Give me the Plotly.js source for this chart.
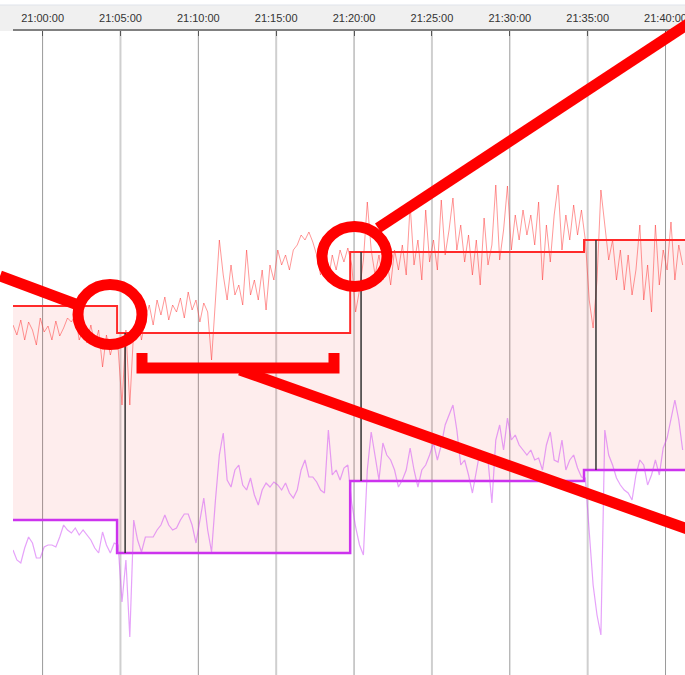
<!DOCTYPE html>
<html>
<head>
<meta charset="utf-8">
<script src="https://cdn.plot.ly/plotly-3.0.1.min.js"></script>
<style>html,body{margin:0;padding:0;background:#fff;}#chart{width:685px;height:675px;}</style>
</head>
<body>
<div id="chart"></div>
<script>
// ---- data (times in seconds after 21:00:00) ----
const noiseStart = -114;      // first sample time (s)
const noiseStep = 15;         // sampling interval (s)
const redVals = [350,340,355,335,353,345,330,357,343,349,335,354,339,
347,357,353,360,335,345,332,350,330,345,308,340,320,335,
327,270,345,270,345,360,335,357,370,350,375,360,378,355,370,363,377,357,383,365,375,353,372,363,
315,375,435,400,375,410,380,390,370,425,
380,395,375,405,365,410,395,425,410,420,
405,425,430,440,435,443,433,420,400,415,
395,420,405,425,413,427,410,363,385,415,
473,425,400,420,395,415,390,425,405,430,
400,470,410,435,395,465,413,435,405,475,
420,445,477,425,450,413,440,400,435,390,
457,410,430,490,415,445,489,425,460,435,
465,440,460,430,473,395,450,413,460,490,
425,460,435,470,440,465,435,375,347,395,
485,450,415,435,395,425,385,420,380,405,
450,375,410,363,450,390,425,405,453,395,430,410];
const violetVals = [125,115,112,127,138,132,117,117,128,130,
130,128,138,150,145,142,147,140,145,140,
135,127,122,143,130,122,132,130,73,115,
38,155,135,123,138,138,138,145,150,160,
150,145,147,155,161,161,150,132,155,177,
145,123,175,220,242,195,188,205,210,190,
185,197,180,170,185,192,188,193,190,185,
192,182,177,185,205,215,198,198,193,185,
182,245,200,205,195,207,210,172,148,130,
120,205,243,220,195,232,220,215,205,188,
195,205,227,205,188,205,210,220,232,215,
230,250,260,270,245,210,215,200,182,205,
225,220,215,172,235,250,225,257,235,240,
230,225,220,225,215,217,205,230,243,215,
213,235,205,215,220,207,198,197,145,90,
60,40,245,220,210,197,190,185,182,175,
200,215,210,190,200,215,200,227,237,255,
275,255,225];
const stepTimes = [-114, 287, 1185, 2086, 2475];
const upperLimit = [369, 342, 423, 435, 435];
const lowerLimit = [155, 122, 194, 205, 205];
const markerTimes = [318, 1227, 2132];
const markerTop = [342, 423, 435];
const markerBottom = [122, 194, 205];
const tickMinutes = [0,5,10,15,20,25,30,35,40];
const xRange = [-114, 2475];

// ---- helpers ----
function pad(n){return (n<10?'0':'')+n;}
function tstr(sec){
  let s = 21*3600 + Math.round(sec);
  const h = Math.floor(s/3600), m = Math.floor((s%3600)/60), ss = s%60;
  return '2024-01-01 ' + pad(h)+':'+pad(m)+':'+pad(ss);
}
const noiseX = redVals.map((_, i) => tstr(noiseStart + i*noiseStep));

const traces = [
  {x: stepTimes.map(tstr), y: lowerLimit, type:'scatter', mode:'lines',
   line:{shape:'hv', color:'#cc33ee', width:2.5}, hoverinfo:'skip'},
  {x: stepTimes.map(tstr), y: upperLimit, type:'scatter', mode:'lines', fill:'tonexty',
   fillcolor:'rgba(240,60,60,0.09)', line:{shape:'hv', color:'#ff2a2a', width:2}, hoverinfo:'skip'},
  {x: noiseX, y: redVals, type:'scatter', mode:'lines',
   line:{shape:'linear', color:'rgba(255,50,50,0.5)', width:1}, hoverinfo:'skip'},
  {x: noiseX, y: violetVals, type:'scatter', mode:'lines',
   line:{shape:'linear', color:'rgba(205,70,245,0.5)', width:1.2}, hoverinfo:'skip'}
];
const mx = [], my = [];
markerTimes.forEach((t, i) => { mx.push(tstr(t), tstr(t), null); my.push(markerTop[i], markerBottom[i], null); });
traces.push({x: mx, y: my, type:'scatter', mode:'lines', line:{color:'#333', width:1.5}, hoverinfo:'skip'});

// ---- layout ----
const L = 13, T = 31, W = 672, H = 644;
const X = px => (px - L)/W;
const Y = py => (T + H - py)/H;

const shapes = [];
// header band
shapes.push({type:'rect', xref:'paper', yref:'paper', x0:X(0), x1:X(685), y0:Y(31), y1:Y(5),
  fillcolor:'#f0f0f0', line:{width:0}, layer:'below'});
shapes.push({type:'line', xref:'paper', yref:'paper', x0:X(0), x1:X(685), y0:Y(5), y1:Y(5),
  line:{color:'#dfe3ea', width:1}, layer:'below'});
// gridlines
tickMinutes.forEach(m => {
  const major = m % 10 === 0;
  shapes.push({type:'line', xref:'x', yref:'paper', x0:tstr(m*60), x1:tstr(m*60), y0:0, y1:1,
    line:{color: major ? '#9a9a9a' : '#cfcfcf', width: major ? 1 : 2}, layer:'below'});
});
// red hand-drawn annotations
const red = {color:'#ff0000', width:11};
shapes.push({type:'line', xref:'paper', yref:'paper', x0:X(0), y0:Y(276), x1:X(82), y1:Y(306.5), line:red});
shapes.push({type:'circle', xref:'paper', yref:'paper', x0:X(78), x1:X(142), y0:Y(344.5), y1:Y(284.5), line:red});
shapes.push({type:'circle', xref:'paper', yref:'paper', x0:X(322), x1:X(387), y0:Y(286.5), y1:Y(226.5), line:red});
shapes.push({type:'line', xref:'paper', yref:'paper', x0:X(378), y0:Y(228), x1:X(700), y1:Y(16), line:red});
shapes.push({type:'line', xref:'paper', yref:'paper', x0:X(240), y0:Y(370), x1:X(700), y1:Y(533.5), line:red});
shapes.push({type:'path', xref:'paper', yref:'paper',
  path:'M '+X(142)+' '+Y(353)+' L '+X(142)+' '+Y(368)+' L '+X(334)+' '+Y(368)+' L '+X(334)+' '+Y(353),
  line:red});

const layout = {
  width:685, height:675,
  margin:{l:L, r:0, t:T, b:0, pad:0},
  paper_bgcolor:'rgba(0,0,0,0)', plot_bgcolor:'#ffffff',
  showlegend:false,
  xaxis:{type:'date', side:'top', range:[tstr(xRange[0]), tstr(xRange[1])],
    tick0:tstr(0), dtick:300000, tickformat:'%H:%M:%S',
    showgrid:false, zeroline:false, showline:true, linecolor:'#808080', linewidth:2,
    ticks:'inside', ticklen:5, tickcolor:'#555', tickwidth:1,
    ticklabeloverflow:'allow', ticklabelstandoff:3,
    tickfont:{family:'Liberation Sans, Arial, sans-serif', size:11, color:'#333'}, fixedrange:true},
  yaxis:{range:[0, 644], visible:false, showgrid:false, zeroline:false, fixedrange:true},
  shapes: shapes
};
Plotly.newPlot('chart', traces, layout, {staticPlot:true, displayModeBar:false});
</script>
</body>
</html>
